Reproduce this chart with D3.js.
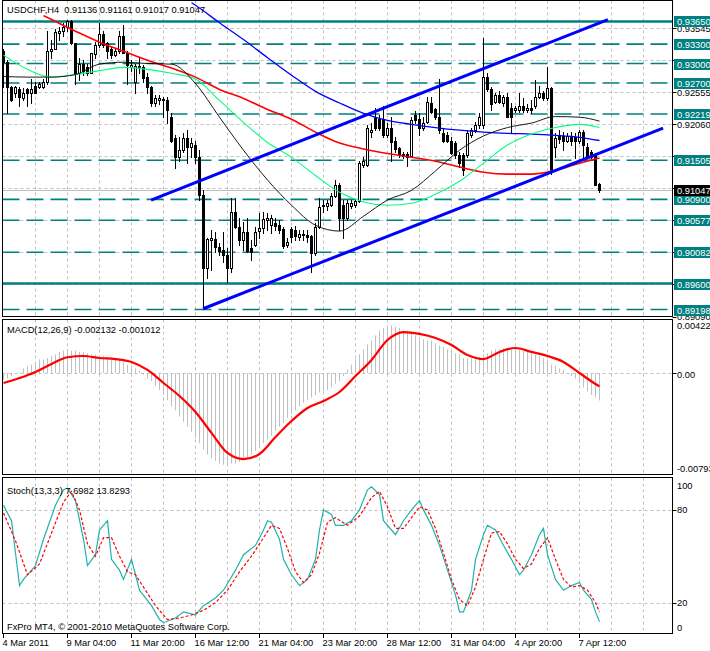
<!DOCTYPE html>
<html><head><meta charset="utf-8">
<script src="https://cdn.jsdelivr.net/npm/d3@7"></script>
<style>
body{margin:0;background:#fff;}
svg text{font-family:"Liberation Sans",Arial,sans-serif;font-size:9.3px;white-space:pre;}
</style>
</head><body>
<svg id="c" width="710" height="651"></svg>
<script>
// ---------------- DATA ----------------
const titleText = "USDCHF,H4  0.91136 0.91161 0.91017 0.91047";
const macdTitle = "MACD(12,26,9) -0.002132 -0.001012";
const stochTitle = "Stoch(13,3,3) 7.6982 13.8293";
const footerText = "FxPro MT4, \u00A9 2001-2010 MetaQuotes Software Corp.";

const opens = [.9320,.9302,.9263,.9254,.9260,.9246,.9260,.9255,.9265,.9263,
.9263,.9271,.9319,.9323,.9347,.9350,.9356,.9365,.9331,.9285,
.9300,.9294,.9286,.9314,.9328,.9345,.9331,.9323,.9313,.9319,
.9342,.9317,.9294,.9271,.9296,.9294,.9279,.9263,.9239,.9243,
.9243,.9243,.9218,.9185,.9155,.9166,.9185,.9171,.9174,.9155,
.9097,.8984,.9027,.9029,.9016,.9012,.9004,.8984,.9070,.9047,
.9027,.9039,.9015,.9019,.9041,.9046,.9058,.9050,.9053,.9050,
.9044,.9019,.9044,.9042,.9032,.9035,.9035,.9033,.9007,.9047,
.9080,.9080,.9081,.9095,.9113,.9081,.9061,.9080,.9081,.9087,
.9143,.9143,.9194,.9217,.9214,.9214,.9189,.9200,.9181,.9169,
.9160,.9160,.9157,.9220,.9214,.9200,.9209,.9239,.9229,.9218,
.9192,.9189,.9181,.9177,.9158,.9158,.9158,.9189,.9197,.9205,
.9205,.9279,.9260,.9240,.9251,.9239,.9248,.9232,.9228,.9228,
.9234,.9228,.9232,.9234,.9248,.9254,.9246,.9262,.9171,.9188,
.9188,.9181,.9186,.9186,.9181,.9194,.9171,.9163,.9158,.91136];
const highs = [.9323,.9305,.9265,.9265,.9263,.9262,.9262,.9276,.9271,.9271,
.9276,.9351,.9336,.9354,.9356,.9362,.9367,.9368,.9331,.9308,
.9306,.9300,.9317,.9333,.9362,.9351,.9333,.9325,.9323,.9351,
.9359,.9320,.9305,.9300,.9309,.9297,.9285,.9266,.9251,.9251,
.9249,.9248,.9223,.9189,.9186,.9192,.9197,.9185,.9181,.9166,
.9104,.9030,.9042,.9039,.9022,.9039,.9015,.9092,.9092,.9061,
.9055,.9061,.9027,.9047,.9069,.9070,.9069,.9066,.9061,.9058,
.9047,.9030,.9047,.9049,.9042,.9042,.9042,.9035,.9053,.9092,
.9089,.9089,.9100,.9120,.9115,.9089,.9089,.9089,.9090,.9150,
.9155,.9205,.9208,.9232,.9220,.9235,.9208,.9217,.9186,.9171,
.9163,.9163,.9217,.9226,.9223,.9217,.9248,.9248,.9232,.9276,
.9201,.9194,.9186,.9181,.9163,.9161,.9197,.9200,.9209,.9223,
.9340,.9285,.9263,.9255,.9258,.9251,.9254,.9239,.9235,.9254,
.9246,.9237,.9243,.9274,.9266,.9258,.9294,.9263,.9192,.9197,
.9194,.9192,.9194,.9192,.9197,.9197,.9177,.9166,.9161,.91161];
const lows = [.9263,.9223,.9242,.9248,.9235,.9243,.9235,.9239,.9254,.9262,
.9262,.9269,.9309,.9322,.9336,.9343,.9351,.9330,.9269,.9274,
.9282,.9282,.9285,.9309,.9326,.9325,.9309,.9309,.9311,.9317,
.9316,.9268,.9289,.9255,.9285,.9271,.9255,.9235,.9235,.9237,
.9218,.9208,.9178,.9138,.9150,.9163,.9147,.9155,.9147,.9089,
.8922,.8968,.8981,.9009,.9004,.8993,.8962,.8978,.9046,.9019,
.9012,.9009,.8996,.9018,.9030,.9038,.9042,.9038,.9042,.9038,
.9015,.9016,.9024,.9027,.9027,.9027,.9024,.8978,.9004,.9046,
.9070,.9073,.9080,.9093,.9042,.9030,.9058,.9076,.9078,.9086,
.9140,.9141,.9186,.9197,.9198,.9186,.9186,.9150,.9163,.9155,
.9154,.9141,.9155,.9208,.9189,.9197,.9208,.9223,.9215,.9192,
.9178,.9178,.9160,.9154,.9140,.9127,.9155,.9186,.9194,.9201,
.9201,.9257,.9228,.9239,.9239,.9235,.9217,.9192,.9225,.9225,
.9225,.9225,.9223,.9232,.9246,.9243,.9243,.9130,.9155,.9177,
.9166,.9178,.9174,.9154,.9177,.9155,.9154,.9154,.9112,.91017];
const closes = [.9302,.9263,.9243,.9263,.9248,.9254,.9254,.9260,.9255,.9268,
.9272,.9320,.9323,.9348,.9350,.9356,.9365,.9331,.9285,.9300,
.9289,.9285,.9316,.9328,.9345,.9328,.9320,.9313,.9320,.9342,
.9317,.9297,.9297,.9296,.9293,.9277,.9263,.9239,.9246,.9246,
.9245,.9228,.9181,.9155,.9166,.9185,.9171,.9177,.9155,.9097,
.8984,.9029,.9030,.9016,.9010,.9004,.8984,.9070,.9047,.9027,
.9039,.9010,.9009,.9039,.9046,.9059,.9061,.9061,.9049,.9042,
.9018,.9024,.9032,.9033,.9036,.9036,.9032,.9007,.9047,.9078,
.9081,.9084,.9095,.9113,.9061,.9061,.9084,.9084,.9087,.9147,
.9149,.9200,.9198,.9201,.9201,.9189,.9200,.9178,.9168,.9160,
.9157,.9155,.9212,.9212,.9201,.9208,.9240,.9225,.9218,.9197,
.9181,.9181,.9161,.9158,.9146,.9135,.9192,.9197,.9205,.9218,
.9279,.9260,.9237,.9251,.9240,.9248,.9217,.9217,.9231,.9234,
.9228,.9232,.9228,.9248,.9254,.9246,.9262,.9135,.9185,.9183,
.9181,.9188,.9181,.9180,.9194,.9174,.9155,.9155,.9113,.91047];

// moving averages as [bar index, price]
const maBlack = [[0,.9280],[6,.9279],[12,.9279],[18,.9283],[24,.9299],[30,.9302],[36,.9300],[42,.9299],[48,.9269],[54,.9217],[60,.9166],[66,.9120],[72,.9081],[78,.9050],[84,.9041],[90,.9064],[96,.9089],[102,.9104],[108,.9134],[114,.9166],[120,.9188],[126,.9201],[132,.9208],[138,.9218],[144,.9217],[149,.9211]];
const maGreen = [[0,.9313],[6,.9291],[12,.9279],[18,.9283],[24,.9289],[30,.9294],[36,.9291],[42,.9285],[48,.9276],[54,.9243],[60,.9209],[66,.9178],[72,.9155],[78,.9127],[84,.9101],[90,.9086],[96,.9081],[102,.9084],[108,.9098],[114,.9118],[120,.9146],[126,.9174],[132,.9191],[138,.9201],[144,.9206],[149,.9201]];
const maRed = [[10,.9374],[12,.9368],[18,.9350],[24,.9333],[30,.9319],[36,.9305],[42,.9293],[48,.9279],[54,.9260],[60,.9246],[66,.9229],[72,.9214],[78,.9194],[84,.9177],[90,.9168],[96,.9161],[102,.9155],[108,.9149],[114,.9140],[120,.9132],[126,.9129],[132,.9129],[138,.9135],[144,.9146],[149,.9154]];
const maBlue = [[47,.9394],[48,.9390],[54,.9363],[60,.9337],[66,.9309],[72,.9282],[78,.9257],[84,.9239],[90,.9223],[96,.9212],[102,.9206],[108,.9201],[114,.9197],[120,.9194],[126,.9192],[132,.9191],[138,.9189],[144,.9186],[149,.9181]];

// channel trend lines [bar index, price]
const channelUpper = [[36.9,.9089],[151.1,.9368]];
const channelLower = [[49.9,.8921],[164.9,.9200]];

// horizontal level lines
const levelPrices = [0.93650,0.93300,0.93000,0.92700,0.92219,0.91505,0.90900,0.90577,0.90082,0.89600,0.89198];
const solidLevels = [0.93650,0.89600];
const bidPrice = 0.91047;
const priceGrid = [0.93545,0.93050,0.92555,0.92060,0.91565,0.91070,0.90575,0.90080,0.89585,0.89090];

// MACD
const macdMain = [-0.0005,-0.0004,-0.0002,0.0000,0.0001,0.0004,0.0006,0.0007,0.0009,0.0011,
0.0011,0.0012,0.0014,0.0015,0.0017,0.0018,0.0019,0.0018,0.0018,0.0017,
0.0017,0.0016,0.0015,0.0015,0.0014,0.0014,0.0013,0.0012,0.0011,0.0011,
0.0009,0.0007,0.0006,0.0004,0.0002,-0.0001,-0.0004,-0.0006,-0.0010,-0.0013,
-0.0017,-0.0021,-0.0026,-0.0029,-0.0034,-0.0038,-0.0042,-0.0046,-0.0051,-0.0055,
-0.0060,-0.0064,-0.0067,-0.0069,-0.0071,-0.0072,-0.0072,-0.0071,-0.0071,-0.0070,
-0.0068,-0.0066,-0.0064,-0.0061,-0.0058,-0.0055,-0.0052,-0.0049,-0.0045,-0.0042,
-0.0039,-0.0035,-0.0032,-0.0029,-0.0026,-0.0023,-0.0021,-0.0019,-0.0017,-0.0015,
-0.0014,-0.0013,-0.0011,-0.0008,-0.0006,-0.0002,0.0003,0.0007,0.0011,0.0015,
0.0019,0.0023,0.0026,0.0030,0.0034,0.0036,0.0037,0.0038,0.0037,0.0036,
0.0034,0.0034,0.0032,0.0030,0.0029,0.0027,0.0026,0.0026,0.0024,0.0022,
0.0021,0.0019,0.0018,0.0016,0.0015,0.0012,0.0012,0.0012,0.0012,0.0013,
0.0015,0.0016,0.0018,0.0019,0.0019,0.0020,0.0020,0.0019,0.0019,0.0019,
0.0018,0.0017,0.0016,0.0015,0.0014,0.0012,0.0011,0.0007,0.0006,0.0004,
0.0003,0.0000,-0.0002,-0.0004,-0.0007,-0.0011,-0.0014,-0.0017,-0.0019,-0.002132];
const signalIdx = [0,4,8,12,16,20,24,28,32,36,40,44,48,52,56,60,64,68,72,76,80,84,88,92,96,100,104,108,112,116,120,124,128,132,136,140,144,148,149];
const macdSignal = [-0.00075,-0.00036,0.00012,0.00075,0.00128,0.00138,0.00122,0.00114,0.00091,0.00028,
-0.00075,-0.00178,-0.00304,-0.00469,-0.00627,-0.00675,-0.00635,-0.00501,-0.00375,-0.00272,
-0.00217,-0.00146,-0.00020,0.00107,0.00264,0.00327,0.00312,0.00280,0.00225,0.00146,
0.00114,0.00170,0.00201,0.00170,0.00138,0.00091,0.00004,-0.00083,-0.001012];
const macdMax = 0.00422, macdMin = -0.00793;

// Stochastic as [bar index, value]
const stochMain = [[0,83],[2,73],[4,31],[5,35],[8,44],[10,61],[13,83],[15,93],[16,94],[18,86],[20,61],[21,44],[23,51],[24,67],[26,73],[27,48],[29,41],[30,35],[32,48],[34,28],[37,18],[39,9],[40,7],[43,10],[45,14],[48,12],[50,18],[53,23],[55,28],[58,41],[60,51],[63,57],[65,67],[66,73],[67,72],[69,61],[70,48],[72,38],[74,31],[76,35],[78,48],[79,67],[80,80],[82,77],[83,70],[85,70],[87,73],[89,80],[91,93],[92,95],[94,90],[95,73],[97,67],[98,64],[100,73],[102,80],[104,86],[105,80],[107,70],[109,57],[111,41],[113,25],[114,14],[115,14],[117,28],[118,48],[120,64],[121,70],[123,67],[125,57],[127,48],[129,38],[130,41],[132,51],[134,64],[135,68],[136,51],[138,35],[140,28],[142,31],[144,33],[145,28],[147,22],[148,14],[149,7.6982]];
const stochSignal = [[0,78],[3,60],[6,38],[9,45],[12,65],[15,85],[17,92],[19,80],[21,58],[23,50],[25,62],[27,62],[29,50],[31,40],[33,38],[35,30],[38,18],[41,9],[44,10],[47,12],[50,15],[53,20],[56,28],[59,40],[62,50],[65,62],[67,70],[69,68],[71,55],[73,40],[75,33],[77,38],[79,52],[81,72],[83,75],[86,70],[89,76],[92,88],[94,92],[96,82],[98,68],[100,68],[102,75],[104,82],[106,80],[108,68],[110,52],[112,35],[114,22],[116,18],[118,30],[120,48],[122,65],[124,66],[126,58],[128,48],[130,42],[132,45],[134,55],[136,62],[138,48],[140,35],[142,30],[144,31],[146,28],[148,20],[149,13.8293]];
const stochLevels = [20,80];

// time axis
const timeLabels = ["4 Mar 2011","9 Mar 04:00","11 Mar 20:00","16 Mar 12:00","21 Mar 04:00","23 Mar 20:00","28 Mar 12:00","31 Mar 04:00","4 Apr 20:00","7 Apr 12:00"];
const timeLabelIdx = [0,16,32,48,64,80,96,112,128,144];

// ---------------- DRAW ----------------
const svg = d3.select("#c");
const axisX = 672.5, leftX = 2.5;
const P = {main:[0.5,316.5], macd:[319.5,474.5], stoch:[477.5,633.5]};
const x = d3.scaleLinear().domain([0,1]).range([3.5,7.5]);
const yP = d3.scaleLinear().domain([0.89090,0.93974]).range([316.5,0.5]);
const yM = d3.scaleLinear().domain([macdMin,macdMax]).range([474,320]);
const yS = d3.scaleLinear().domain([0,100]).range([633.5,479]);
const grid = "#c0c0c0", teal = "#008080";

const defs = svg.append("defs");
Object.entries(P).forEach(([k,[t,b]])=>{
  defs.append("clipPath").attr("id","clip-"+k).append("rect")
    .attr("x",leftX+0.5).attr("y",t+0.5).attr("width",axisX-leftX-1).attr("height",b-t-1);
});
const gMain = svg.append("g").attr("clip-path","url(#clip-main)");
const gMacd = svg.append("g").attr("clip-path","url(#clip-macd)");
const gSto = svg.append("g").attr("clip-path","url(#clip-stoch)");

// vertical grid
const vIdx = d3.range(8,170,8).filter(i=>x(i)<axisX);
[[gMain,P.main],[gMacd,P.macd],[gSto,P.stoch]].forEach(([g,[t,b]])=>{
  g.selectAll(null).data(vIdx).join("line")
    .attr("x1",d=>x(d)).attr("x2",d=>x(d)).attr("y1",t).attr("y2",b)
    .attr("stroke",grid).attr("stroke-dasharray","3,3");
});
// horizontal grid
const hy = v=>Math.round(v)+0.5;
gMain.selectAll(null).data(priceGrid).join("line")
  .attr("x1",leftX).attr("x2",axisX).attr("y1",d=>hy(yP(d))).attr("y2",d=>hy(yP(d)))
  .attr("stroke",grid).attr("stroke-dasharray","3,3");
gMacd.append("line").attr("x1",leftX).attr("x2",axisX).attr("y1",hy(yM(0))).attr("y2",hy(yM(0)))
  .attr("stroke",grid).attr("stroke-dasharray","3,3");
gSto.selectAll(null).data(stochLevels).join("line")
  .attr("x1",leftX).attr("x2",axisX).attr("y1",d=>hy(yS(d))).attr("y2",d=>hy(yS(d)))
  .attr("stroke",grid).attr("stroke-dasharray","3,3");

// bid line
gMain.append("line").attr("x1",leftX).attr("x2",axisX)
  .attr("y1",hy(yP(bidPrice))).attr("y2",hy(yP(bidPrice))).attr("stroke","#c0c0c0");

// level lines
gMain.selectAll(null).data(levelPrices).join("line")
  .attr("x1",leftX).attr("x2",axisX).attr("y1",d=>yP(d)).attr("y2",d=>yP(d))
  .attr("stroke",teal)
  .attr("stroke-width",d=>solidLevels.includes(d)?2.5:1.6)
  .attr("stroke-dasharray",d=>solidLevels.includes(d)?null:"17,7");

// candles
const bars = d3.range(opens.length).map(i=>({i,o:opens[i],h:highs[i],l:lows[i],c:closes[i]}));
gMain.selectAll(null).data(bars).join("line")
  .attr("x1",d=>x(d.i)).attr("x2",d=>x(d.i))
  .attr("y1",d=>Math.round(yP(d.h))).attr("y2",d=>Math.round(yP(d.l))+1)
  .attr("stroke","#000");
gMain.selectAll(null).data(bars).join("rect")
  .attr("x",d=>d.c>=d.o? x(d.i)-1 : x(d.i)-1.5)
  .attr("width",d=>d.c>=d.o?2:3)
  .attr("y",d=>{const t=Math.round(yP(Math.max(d.o,d.c)));return d.c>=d.o?t+0.5:t;})
  .attr("height",d=>{const t=Math.round(yP(Math.max(d.o,d.c))),b=Math.round(yP(Math.min(d.o,d.c)));return d.c>=d.o?Math.max(b-t,1):Math.max(b-t+1,1);})
  .attr("fill",d=>d.c>=d.o?"#fff":"#000")
  .attr("stroke",d=>d.c>=d.o?"#000":"none");

// moving averages
const maLine = d3.line().x(d=>x(d[0])).y(d=>yP(d[1])).curve(d3.curveMonotoneX);
[[maRed,"#ff0000",1.6],[maBlue,"#0000ff",1.3],[maGreen,"#00ff80",1.1],[maBlack,"#000000",0.9]].forEach(([d,c,w])=>{
  gMain.append("path").attr("d",maLine(d)).attr("fill","none").attr("stroke",c).attr("stroke-width",w);
});
// channel
const tl = d3.line().x(d=>x(d[0])).y(d=>yP(d[1]));
[channelUpper,channelLower].forEach(d=>{
  gMain.append("path").attr("d",tl(d)).attr("stroke","#0000ff").attr("stroke-width",3).attr("fill","none");
});

// MACD histogram + signal
gMacd.selectAll(null).data(macdMain.map((v,i)=>[i,v])).join("line")
  .attr("x1",d=>x(d[0])).attr("x2",d=>x(d[0]))
  .attr("y1",Math.round(yM(0))).attr("y2",d=>yM(d[1]))
  .attr("stroke","#c0c0c0");
gMacd.append("path").attr("d",d3.line().x(d=>x(d[0])).y(d=>yM(d[1])).curve(d3.curveMonotoneX)(signalIdx.map((i,k)=>[i,macdSignal[k]])))
  .attr("fill","none").attr("stroke","#ff0000").attr("stroke-width",2.2);

// Stoch
const sLine = d3.line().x(d=>x(d[0])).y(d=>yS(d[1]));
gSto.append("path").attr("d",sLine(stochMain))
  .attr("fill","none").attr("stroke","#20b2aa").attr("stroke-width",1.2);
gSto.append("path").attr("d",sLine(stochSignal))
  .attr("fill","none").attr("stroke","#ff0000").attr("stroke-width",1.2).attr("stroke-dasharray","3,2");

// frames
Object.values(P).forEach(([t,b])=>{
  svg.append("rect").attr("x",leftX).attr("y",t).attr("width",axisX-leftX).attr("height",b-t)
    .attr("fill","none").attr("stroke","#000");
});

// right axis labels main
const rt = svg.append("g");
const boxes = levelPrices.map(p=>({p,bg:teal})).concat([{p:bidPrice,bg:"#000"}]);
const shownGrid = priceGrid.filter(g=>!boxes.some(b=>Math.abs(yP(b.p)-yP(g))<4));
rt.selectAll(null).data(priceGrid).join("line")
  .attr("x1",axisX).attr("x2",axisX+4).attr("y1",d=>hy(yP(d))).attr("y2",d=>hy(yP(d))).attr("stroke","#000");
rt.selectAll(null).data(shownGrid).join("text")
  .attr("x",677).attr("y",d=>yP(d)+3.5).text(d=>d.toFixed(5));
boxes.forEach(b=>{
  const yy=Math.round(yP(b.p));
  rt.append("rect").attr("x",674).attr("y",yy-5).attr("width",40).attr("height",11).attr("fill",b.bg);
  rt.append("text").attr("x",677).attr("y",yy+4).attr("fill","#fff").text(b.p.toFixed(5));
});
// MACD labels
[[macdMax,329],[0,378],[macdMin,472]].forEach(([v,yy])=>{
  rt.append("text").attr("x",677).attr("y",yy).text(v===0?"0.00":v.toFixed(5));
});
rt.append("line").attr("x1",axisX).attr("x2",axisX+4).attr("y1",hy(yM(0))).attr("y2",hy(yM(0))).attr("stroke","#000");
// Stoch labels
[[100,489],[80,yS(80)+3.5],[20,yS(20)+3.5],[0,631]].forEach(([v,yy])=>{
  rt.append("text").attr("x",677).attr("y",yy).text(String(v));
});
stochLevels.forEach(v=>rt.append("line").attr("x1",axisX).attr("x2",axisX+4).attr("y1",hy(yS(v))).attr("y2",hy(yS(v))).attr("stroke","#000"));

// time axis
svg.selectAll(null).data(timeLabelIdx).join("line")
  .attr("x1",d=>x(d)).attr("x2",d=>x(d)).attr("y1",633.5).attr("y2",638).attr("stroke","#000");
svg.selectAll(null).data(timeLabelIdx).join("text")
  .attr("x",d=>x(d)-1).attr("y",646).text((d,k)=>timeLabels[k]);

// titles
svg.append("text").attr("x",7).attr("y",13).text(titleText);
svg.append("text").attr("x",7).attr("y",333).text(macdTitle);
svg.append("text").attr("x",7).attr("y",494).text(stochTitle);
svg.append("text").attr("x",7).attr("y",630).text(footerText);
</script>
</body></html>
